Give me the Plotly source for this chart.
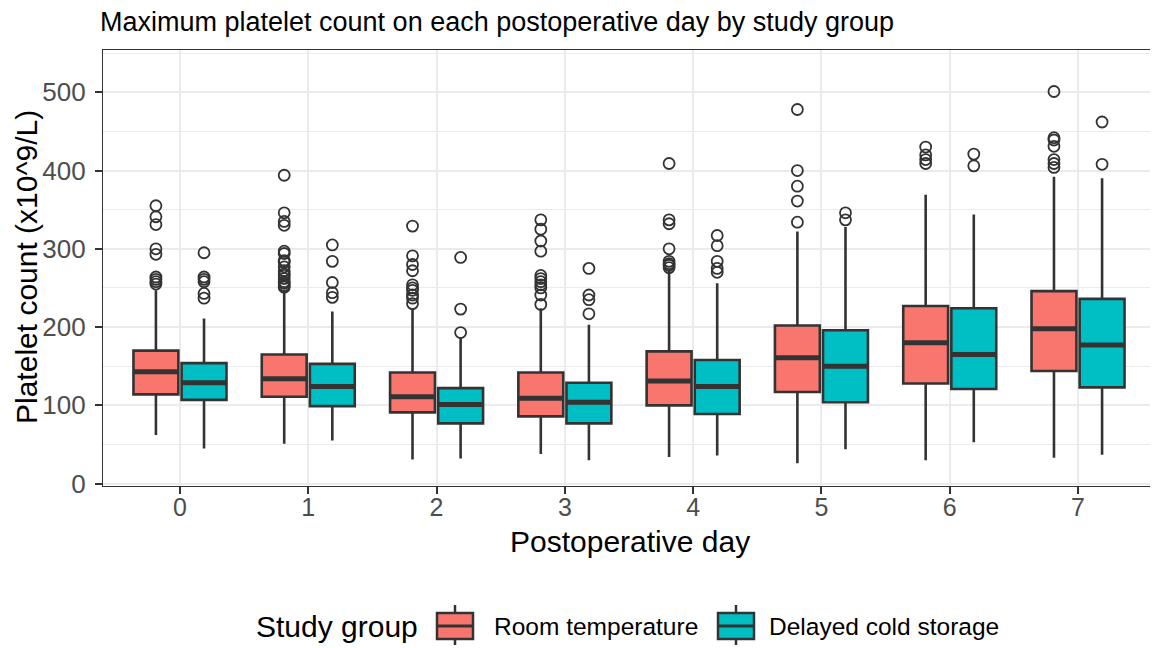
import plotly.graph_objects as go

days = ["0", "1", "2", "3", "4", "5", "6", "7"]
groups = ["Room temperature", "Delayed cold storage"]
colors = ["#F8766D", "#00BFC4"]

# Room temperature
rt_lower = [62, 51, 31, 38, 34, 26, 30, 33]
rt_q1 = [114, 111, 91, 86, 100, 117, 128, 144]
rt_median = [143, 134, 111, 109, 131, 161, 180, 198]
rt_q3 = [170, 165, 142, 142, 169, 202, 227, 246]
rt_upper = [247, 247, 224, 224, 273, 322, 369, 392]
rt_outliers = [
    [355, 341, 331, 300, 293, 264, 261, 258, 255],
    [394, 346, 335, 330, 297, 294, 285, 283, 277, 272, 268, 266, 262, 258, 256, 253, 251],
    [329, 291, 280, 272, 254, 250, 247, 241, 237, 230],
    [337, 325, 310, 297, 266, 262, 258, 254, 250, 241, 229],
    [409, 337, 332, 300, 284, 281, 279, 276],
    [478, 400, 380, 361, 334],
    [430, 420, 414, 409],
    [501, 442, 439, 431, 414, 409, 404],
]

# Delayed cold storage
dcs_lower = [45, 55, 32, 30, 36, 44, 53, 37]
dcs_q1 = [107, 99, 77, 77, 89, 104, 121, 123]
dcs_median = [129, 124, 101, 104, 124, 150, 165, 177]
dcs_q3 = [154, 153, 122, 129, 158, 196, 224, 236]
dcs_upper = [211, 220, 187, 203, 256, 328, 344, 390]
dcs_outliers = [
    [295, 264, 261, 258, 243, 237],
    [305, 284, 257, 244, 238],
    [289, 223, 193],
    [275, 241, 235, 217],
    [317, 304, 284, 275, 270],
    [346, 337],
    [421, 406],
    [462, 408],
]

series = [
    (groups[0], colors[0], rt_lower, rt_q1, rt_median, rt_q3, rt_upper, rt_outliers),
    (groups[1], colors[1], dcs_lower, dcs_q1, dcs_median, dcs_q3, dcs_upper, dcs_outliers),
]

INK = "#333333"
FONT = "Liberation Sans, Arial, sans-serif"

# page layout (the html body adds an 8px margin around the figure)
OFF = 8
PAGE_W, PAGE_H = 1158, 648
W, H = PAGE_W - OFF, PAGE_H - OFF
P_L, P_R, P_T, P_B = 103, 1155, 50, 486          # panel edges on the page
ML, MR, MT, MB = P_L - OFF, OFF + W - P_R, P_T - OFF, OFF + H - P_B
PW, PH = P_R - P_L, P_B - P_T


def px(xp):
    return (xp - P_L) / PW


def py(yp):
    return (P_B - yp) / PH


fig = go.Figure()
for i, (name, col, lo, q1, med, q3, hi, outs) in enumerate(series):
    fig.add_trace(go.Box(
        name=name, x=days, q1=q1, median=med, q3=q3,
        lowerfence=lo, upperfence=hi,
        fillcolor=col, line=dict(color=INK, width=2.6),
        whiskerwidth=0, offsetgroup=f"g{i}", alignmentgroup="a",
        boxpoints=False, hoverinfo="skip", showlegend=False,
    ))
for i, (name, col, lo, q1, med, q3, hi, outs) in enumerate(series):
    # thick median band (ggplot fatten)
    fig.add_trace(go.Box(
        name=name, x=days, q1=med, median=med, q3=med,
        lowerfence=med, upperfence=med,
        fillcolor=INK, line=dict(color=INK, width=5),
        whiskerwidth=0, offsetgroup=f"g{i}", alignmentgroup="a",
        boxpoints=False, hoverinfo="skip", showlegend=False,
    ))
for i, (name, col, lo, q1, med, q3, hi, outs) in enumerate(series):
    ox, oy = [], []
    for d, vals in zip(days, outs):
        for v in vals:
            ox.append(d)
            oy.append(v)
    fig.add_trace(go.Scatter(
        x=ox, y=oy, mode="markers", name=name,
        marker=dict(symbol="circle-open", size=11, color=INK, line=dict(width=1.8, color=INK)),
        offsetgroup=f"g{i}", alignmentgroup="a", showlegend=False,
        hoverinfo="skip",
    ))

# ---- ggplot-style legend and axis titles from layout shapes/annotations ----
shapes = []
annotations = []
ly = 626
annotations.append(dict(text="Study group", x=px(254), y=py(ly), xref="paper", yref="paper",
                        xanchor="left", yanchor="middle", showarrow=False,
                        font=dict(size=30, color="black", family=FONT)))
key_x = [455, 736]
lab_x = [492, 767]
for kx, lx, name, col in zip(key_x, lab_x, groups, colors):
    shapes.append(dict(type="line", xref="paper", yref="paper", x0=px(kx), x1=px(kx),
                       y0=py(605), y1=py(645), line=dict(color=INK, width=2.5), layer="above"))
    shapes.append(dict(type="rect", xref="paper", yref="paper", x0=px(kx - 18), x1=px(kx + 18),
                       y0=py(613), y1=py(639), fillcolor=col, line=dict(color=INK, width=2.5),
                       layer="above"))
    shapes.append(dict(type="line", xref="paper", yref="paper", x0=px(kx - 18), x1=px(kx + 18),
                       y0=py(626), y1=py(626), line=dict(color=INK, width=2.8), layer="above"))
    annotations.append(dict(text=name, x=px(lx), y=py(ly), xref="paper", yref="paper",
                            xanchor="left", yanchor="middle", showarrow=False,
                            font=dict(size=24.5, color="black", family=FONT)))

annotations.append(dict(text="Postoperative day", x=px(630), y=py(541), xref="paper", yref="paper",
                        xanchor="center", yanchor="middle", showarrow=False,
                        font=dict(size=30, color="black", family=FONT)))
annotations.append(dict(text="Platelet count (x10^9/L)", x=px(26), y=py(267), xref="paper",
                        yref="paper", xanchor="center", yanchor="middle", showarrow=False,
                        textangle=-90, font=dict(size=30, color="black", family=FONT)))

fig.update_layout(
    width=W, height=H,
    paper_bgcolor="white", plot_bgcolor="white",
    margin=dict(l=ML, r=MR, t=MT, b=MB),
    boxmode="group", boxgap=0.25, boxgroupgap=0.0667,
    scattermode="group", scattergap=0.25,
    font=dict(family=FONT, color="black"),
    title=dict(
        text="Maximum platelet count on each postoperative day by study group",
        x=(100 - OFF) / W, xref="container", xanchor="left",
        y=1.0, yref="container", yanchor="top", pad=dict(t=4, b=0),
        font=dict(size=27, color="black", family=FONT),
    ),
    showlegend=False,
    shapes=shapes,
    annotations=annotations,
)
fig.update_xaxes(
    type="category", categoryorder="array", categoryarray=days,
    range=[-0.6, 7.6], automargin=False,
    showgrid=True, gridcolor="#EBEBEB", gridwidth=2,
    showline=True, linecolor=INK, linewidth=1.3, mirror=True,
    ticks="outside", ticklen=7, tickwidth=1.8, tickcolor=INK,
    ticklabelstandoff=-8,
    tickfont=dict(size=25, color="#4D4D4D"),
    zeroline=False,
)
fig.update_yaxes(
    range=[-3, 554], automargin=False,
    tickvals=[0, 100, 200, 300, 400, 500],
    showgrid=True, gridcolor="#EBEBEB", gridwidth=2,
    minor=dict(dtick=50, tick0=0, showgrid=True, gridcolor="#EBEBEB", gridwidth=1),
    showline=True, linecolor=INK, linewidth=1.3, mirror=True,
    ticks="outside", ticklen=7, tickwidth=1.8, tickcolor=INK,
    ticklabelstandoff=4,
    tickfont=dict(size=26, color="#4D4D4D"),
    zeroline=False,
)

fig.write_html("out.html")
